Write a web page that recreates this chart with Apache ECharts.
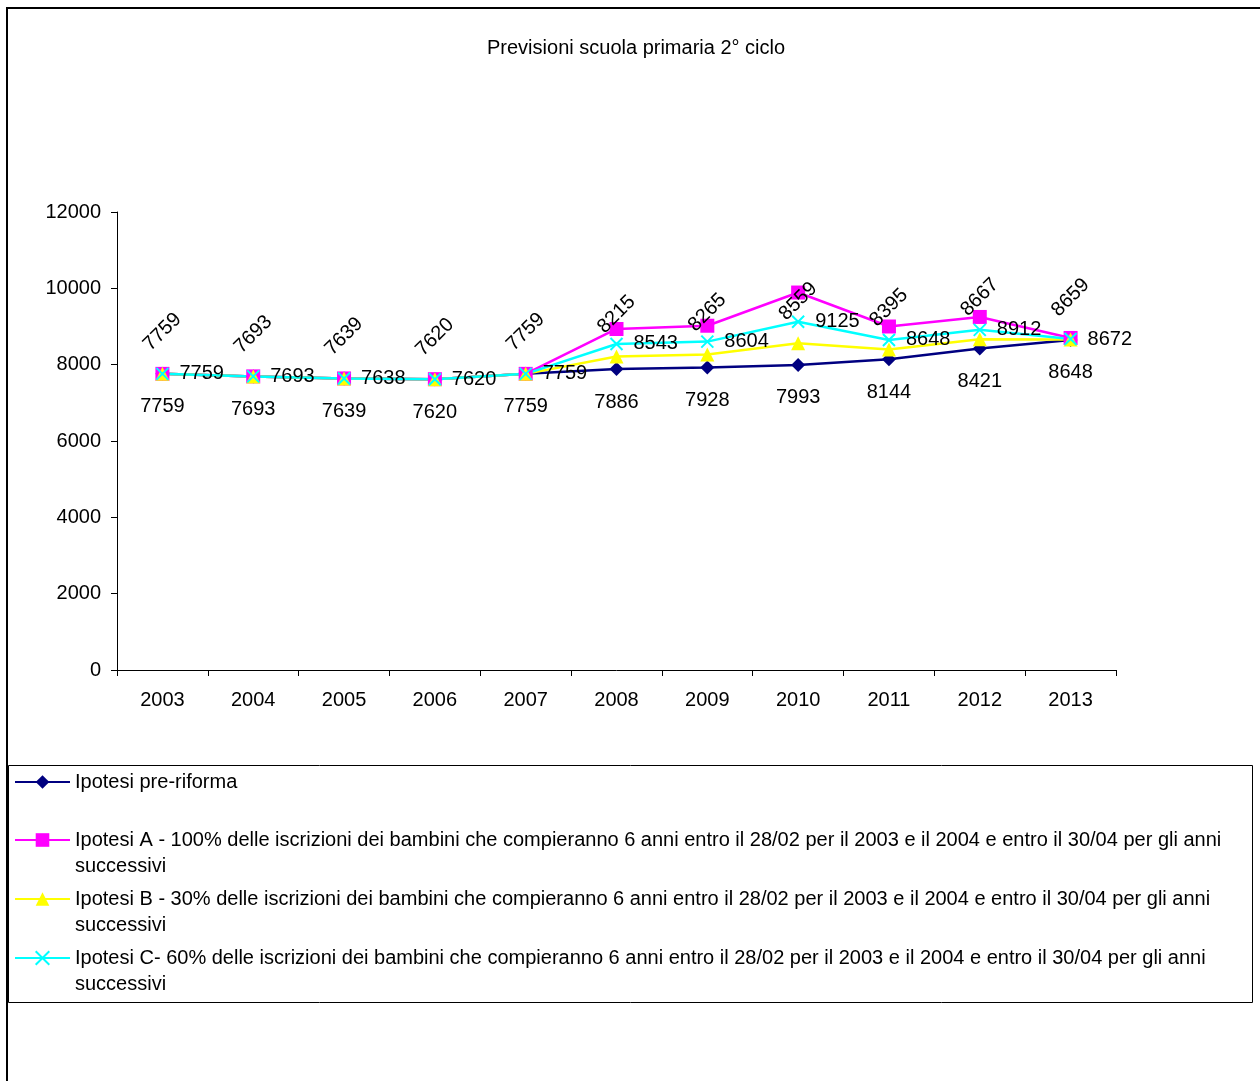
<!DOCTYPE html>
<html>
<head>
<meta charset="utf-8">
<title>Previsioni scuola primaria 2° ciclo</title>
<script src="https://cdn.jsdelivr.net/npm/echarts@6/dist/echarts.min.js"></script>
<style>
  html, body { margin: 0; padding: 0; background: #ffffff; }
  #chart { width: 1260px; height: 1081px; }
</style>
</head>
<body>
<div id="chart"></div>
<script>
// Anni scolastici
const years = ['2003', '2004', '2005', '2006', '2007', '2008', '2009', '2010', '2011', '2012', '2013'];

// Iscritti previsti per ipotesi
const preRiforma = [7759, 7693, 7639, 7620, 7759, 7886, 7928, 7993, 8144, 8421, 8648];
const ipotesiA   = [7759, 7693, 7639, 7620, 7759, 8935, 9020, 9890, 9000, 9250, 8700];
const ipotesiB   = [7759, 7693, 7639, 7620, 7759, 8215, 8265, 8559, 8395, 8667, 8659];
const ipotesiC   = [7759, 7693, 7638, 7620, 7759, 8543, 8604, 9125, 8648, 8912, 8672];

const seriesNames = [
  'Ipotesi pre-riforma',
  'Ipotesi A - 100% delle iscrizioni dei bambini che compieranno 6 anni entro il 28/02 per il 2003 e il 2004 e entro il 30/04 per gli anni successivi',
  'Ipotesi B - 30% delle iscrizioni dei bambini che compieranno 6 anni entro il 28/02 per il 2003 e il 2004 e entro il 30/04 per gli anni successivi',
  'Ipotesi C- 60% delle iscrizioni dei bambini che compieranno 6 anni entro il 28/02 per il 2003 e il 2004 e entro il 30/04 per gli anni successivi'
];

const yTicks = { min: 0, max: 12000, interval: 2000 };

const FONT = '"Liberation Sans", Arial, sans-serif';
const FS = 20;
const crossPath = 'path://M0,0L10,10M0,10L10,0';

const chart = echarts.init(document.getElementById('chart'), null, { renderer: 'canvas' });

const labelBase = { color: '#000', fontFamily: FONT, fontSize: FS };

// One legend block per entry; wrapped entries get an empty leading line so the
// first text line sits level with the legend icon.
function legendFor(name, top, wrapped) {
  return {
    data: [name],
    left: 14,
    top: top,
    orient: 'vertical',
    padding: 0,
    itemWidth: 55,
    itemHeight: 17,
    itemGap: 0,
    selectedMode: false,
    formatter: wrapped ? (n) => '\n' + n : (n) => n,
    textStyle: Object.assign({}, labelBase, {
      width: 1182,
      overflow: 'break',
      lineHeight: 26
    })
  };
}

const option = {
  backgroundColor: '#ffffff',
  animation: false,
  title: {
    text: 'Previsioni scuola primaria 2° ciclo',
    left: 487,
    top: 38,
    padding: 0,
    textStyle: { color: '#000', fontFamily: FONT, fontSize: FS, fontWeight: 'normal' }
  },
  grid: { left: 117, right: 144, top: 212, bottom: 411, containLabel: false },
  legend: [
    legendFor(seriesNames[0], 769, false),
    legendFor(seriesNames[1], 801, true),
    legendFor(seriesNames[2], 860, true),
    legendFor(seriesNames[3], 919, true)
  ],
  xAxis: {
    type: 'category',
    data: years,
    boundaryGap: true,
    axisLine: { lineStyle: { color: '#000', width: 1 } },
    axisTick: { show: true, length: 6, interval: 0, lineStyle: { color: '#000' } },
    axisLabel: { color: '#000', fontFamily: FONT, fontSize: FS, margin: 20, interval: 0 },
    splitLine: { show: false }
  },
  yAxis: {
    type: 'value',
    min: yTicks.min,
    max: yTicks.max,
    interval: yTicks.interval,
    axisLine: { show: true, lineStyle: { color: '#000', width: 1 } },
    axisTick: { show: true, length: 6, lineStyle: { color: '#000' } },
    axisLabel: {
      color: '#000', fontFamily: FONT, fontSize: FS, margin: 16,
      formatter: (v) => String(v)
    },
    splitLine: { show: false }
  },
  graphic: [
    {
      type: 'rect',
      shape: { x: 7, y: 8, width: 1300, height: 1200 },
      style: { fill: 'none', stroke: '#000', lineWidth: 2 },
      silent: true
    },
    {
      type: 'rect',
      shape: { x: 8.5, y: 765.5, width: 1244, height: 237 },
      style: { fill: 'none', stroke: '#000', lineWidth: 1 },
      silent: true
    }
  ],
  series: [
    {
      name: seriesNames[0],
      type: 'line',
      data: preRiforma,
      symbol: 'diamond',
      symbolSize: 14,
      lineStyle: { color: '#000080', width: 2.5 },
      itemStyle: { color: '#000080' },
      label: Object.assign({ show: true, position: 'bottom', distance: 16 }, labelBase)
    },
    {
      name: seriesNames[1],
      type: 'line',
      data: ipotesiA,
      symbol: 'rect',
      symbolSize: 14,
      lineStyle: { color: '#ff00ff', width: 2.5 },
      itemStyle: { color: '#ff00ff' },
      label: { show: false }
    },
    {
      name: seriesNames[2],
      type: 'line',
      data: ipotesiB,
      symbol: 'triangle',
      symbolSize: 14,
      lineStyle: { color: '#ffff00', width: 2.5 },
      itemStyle: { color: '#ffff00' },
      label: Object.assign({
        show: true, position: 'top', distance: 35, rotate: 45,
        align: 'center', verticalAlign: 'middle'
      }, labelBase)
    },
    {
      name: seriesNames[3],
      type: 'line',
      data: ipotesiC,
      symbol: crossPath,
      symbolSize: 12,
      lineStyle: { color: '#00ffff', width: 2.5 },
      itemStyle: { color: '#00ffff', borderColor: '#00ffff', borderWidth: 2 },
      label: Object.assign({ show: true, position: 'right', distance: 10 }, labelBase)
    }
  ]
};

chart.setOption(option);
</script>
</body>
</html>
